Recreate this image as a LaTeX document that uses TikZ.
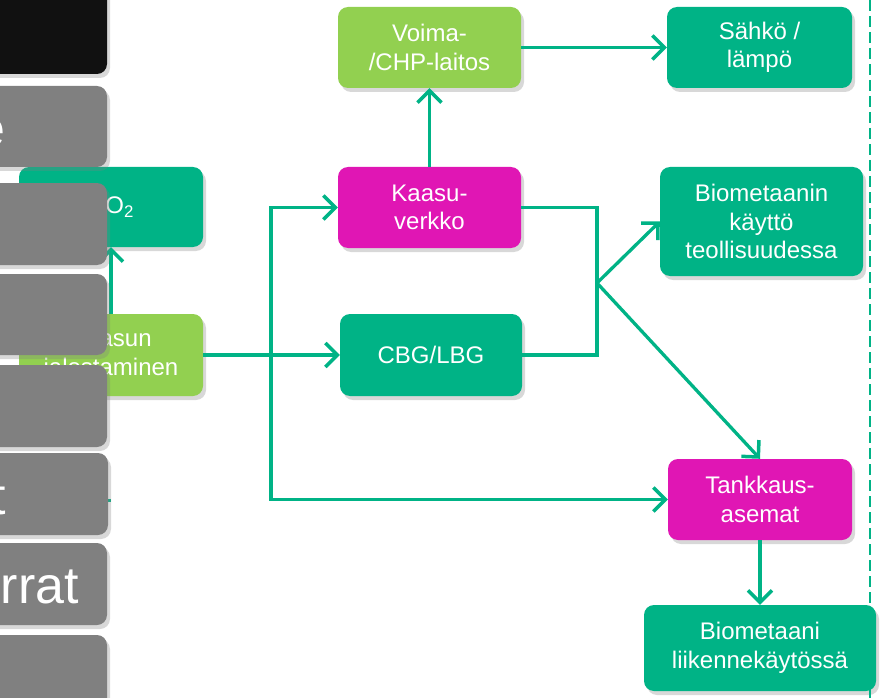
\documentclass[tikz,border=0pt]{standalone}
\usepackage{fontspec}
\setmainfont{Liberation Sans}
\usetikzlibrary{calc,arrows.meta,shadows}
\definecolor{vTeal}{RGB}{0,179,134}
\definecolor{vLime}{RGB}{146,208,80}
\definecolor{vMagenta}{RGB}{224,22,180}
\definecolor{vGrey}{RGB}{128,128,128}
\definecolor{vBlack}{RGB}{17,17,17}

\begin{document}
\begin{tikzpicture}[x=1pt,y=-1pt,
    laatikko/.style={rounded corners=10pt,inner sep=0pt,align=center,text=white,
      font=\fontsize{24}{28.5}\selectfont,minimum height=81pt,
      drop shadow={opacity=0.3,shadow xshift=3pt,shadow yshift=-4pt}},
    harmaa/.style={fill=vGrey,rounded corners=10pt,
      drop shadow={opacity=0.3,shadow xshift=3pt,shadow yshift=-4pt}},
    iso/.style={text=white,inner sep=0pt,font=\fontsize{52}{60}\selectfont},
    viiva/.style={vTeal,line width=3.3pt},
    nuoli/.style={viiva,-{Straight Barb[length=12pt,width=24pt,line width=3.5pt]}}]

    \path[use as bounding box,fill=white] (0,0) rectangle (881,698);

    \node[laatikko,fill=vLime,minimum width=183pt] (nVoima) at (429.5,47.5) {Voima-\\/CHP-laitos};
    \node[laatikko,fill=vTeal,minimum width=185pt] (nSahko) at (759.5,47.5) {Sähkö /\\lämpö};
    \node[laatikko,fill=vMagenta,minimum width=183pt] (nKaasu) at (429.5,207.5) {Kaasu-\\verkko};
    \node[laatikko,fill=vTeal,minimum width=203pt,minimum height=109pt] (nTeol) at (761.5,221.5) {Biometaanin\\käyttö\\teollisuudessa};
    \node[laatikko,fill=vTeal,minimum width=182pt,minimum height=82pt] (nCbg) at (431,355) {CBG/LBG};
    \node[laatikko,fill=vMagenta,minimum width=184pt] (nTank) at (760,499.5) {Tankkaus-\\asemat};
    \node[laatikko,fill=vTeal,minimum width=232pt,minimum height=86pt] (nLiik) at (760,648) {Biometaani\\liikennekäytössä};

    \node[laatikko,fill=vTeal,minimum width=184pt,minimum height=80pt] (nCo) at (111,207) {CO\textsubscript{2}};
    \node[laatikko,fill=vLime,minimum width=184pt,minimum height=82pt] (nJalo) at (111,355) {Kaasun\\jalostaminen};

    \coordinate (cHaara) at (271,355);
    \coordinate (cYhd) at (597,283);

    \draw[nuoli] (nVoima.east) -- (nSahko.west);
    \draw[nuoli] (nKaasu.north) -- (nVoima.south);
    \draw[nuoli] (nJalo.east) -- (nCbg.west);
    \draw[nuoli] (nJalo.north) -- (nCo.south);
    \draw[nuoli] (cHaara) |- (nKaasu.west);
    \draw[nuoli] (cHaara) |- (nTank.west);
    \draw[viiva] (nKaasu.east) -| (cYhd) |- (nCbg.east);
    \draw[nuoli] (cYhd) -- (nTeol.west);
    \draw[nuoli] (cYhd) -- (nTank.north);
    \draw[nuoli] (nTank.south) -- (nLiik.north);

    \coordinate (cPiilo) at (90,500.5);
    \coordinate (cPaa) at (111,500.5);
    \draw[viiva] (cPiilo) -- (cPaa);

    \coordinate (cYla) at (870,0);
    \coordinate (cAla) at (870,698);
    \draw[vTeal,line width=2pt,dash pattern=on 11pt off 5pt] (cYla) -- (cAla);

    % harmaat laatikot vasemmalla
    \fill[vBlack,rounded corners=10pt,
      drop shadow={opacity=0.3,shadow xshift=3pt,shadow yshift=-4pt}] (-130,-20) rectangle (107,74);
    \fill[harmaa] (-130,86) rectangle (107,167);
    \fill[harmaa] (-130,183) rectangle (107,265);
    \fill[harmaa] (-130,274) rectangle (107,355);
    \fill[harmaa] (-130,365) rectangle (107,447);
    \fill[harmaa] (-130,453) rectangle (108,535);
    \fill[harmaa] (-130,543) rectangle (107,625);
    \fill[harmaa] (-130,635) rectangle (107,720);

    \node[iso,anchor=base east] (tE) at (6,147) {e};
    \node[iso,anchor=base east] (tT) at (6,514) {t};
    \node[iso,anchor=base east] (tRrat) at (79,603) {rrat};
\end{tikzpicture}
\end{document}
